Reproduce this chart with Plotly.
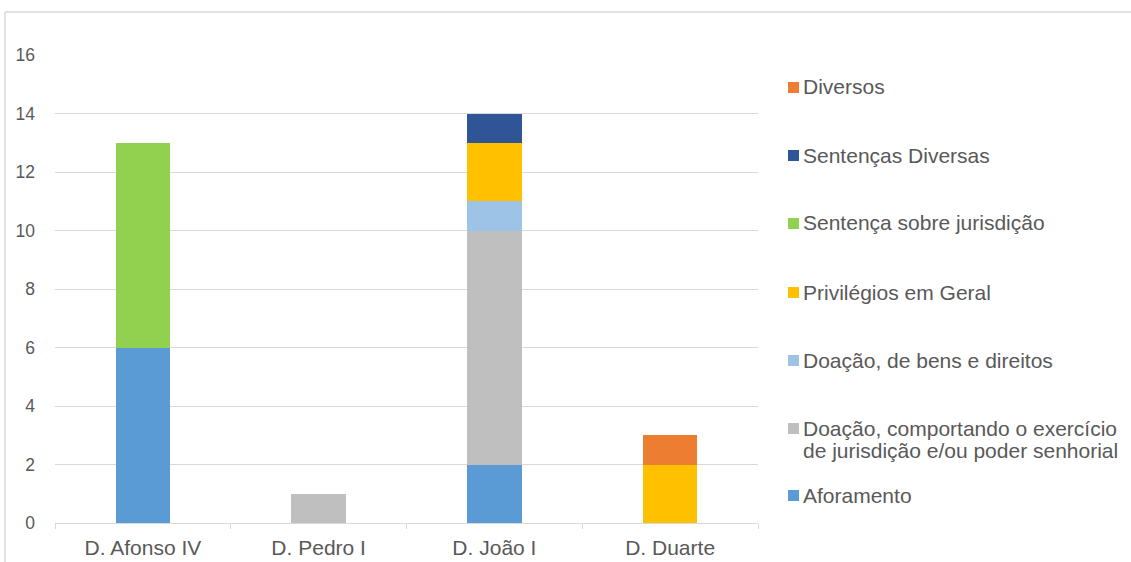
import plotly.graph_objects as go

categories = ["D. Afonso IV", "D. Pedro I", "D. João I", "D. Duarte"]
series_names = [
    "Aforamento",
    "Doação, comportando o exercício|de jurisdição e/ou poder senhorial",
    "Doação, de bens e direitos",
    "Privilégios em Geral",
    "Sentença sobre jurisdição",
    "Sentenças Diversas",
    "Diversos",
]
aforamento = [6, 0, 2, 0]
doacao_jurisdicao = [0, 1, 8, 0]
doacao_bens = [0, 0, 1, 0]
privilegios = [0, 0, 2, 2]
sentenca_jurisdicao = [7, 0, 0, 0]
sentencas_diversas = [0, 0, 1, 0]
diversos = [0, 0, 0, 1]
series_values = [aforamento, doacao_jurisdicao, doacao_bens, privilegios,
                 sentenca_jurisdicao, sentencas_diversas, diversos]
colors = ["#5B9BD5", "#BFBFBF", "#9DC3E6", "#FFC000", "#92D050", "#2F5597", "#ED7D31"]
y_ticks = [0, 2, 4, 6, 8, 10, 12, 14, 16]

W, H = 1131, 562
ml, mr, mt, mb = 55, 373, 55, 39
pw, ph = W - ml - mr, H - mt - mb

def px(p):
    return (p - ml) / pw

def py(p):
    return (H - mb - p) / ph

fig = go.Figure()
for name, vals, col in zip(series_names, series_values, colors):
    fig.add_trace(go.Bar(
        x=categories, y=[v if v else None for v in vals], name=name.replace("|", " "),
        marker=dict(color=col, line=dict(width=0)), showlegend=False,
    ))

font_col = "#595959"
grid_col = "#D9D9D9"
fam = "Liberation Sans, Arial"

# manual legend (top to bottom, reversed order); y = first line centre
legend_rows = [(6, 87), (5, 155), (4, 223), (3, 292), (2, 360), (1, 428), (0, 495)]
shapes = []
annotations = []
for idx, yc in legend_rows:
    shapes.append(dict(type="rect", xref="paper", yref="paper",
                       x0=px(788), x1=px(799), y0=py(yc + 6), y1=py(yc - 5),
                       fillcolor=colors[idx], line=dict(width=0)))
    for k, line in enumerate(series_names[idx].split("|")):
        annotations.append(dict(xref="paper", yref="paper", x=px(801), y=py(yc + 22 * k),
                                text=line, showarrow=False, xanchor="left",
                                yanchor="middle", align="left",
                                font=dict(family=fam, size=21, color=font_col)))

# outer chart frame (partly visible)
shapes.append(dict(type="line", xref="paper", yref="paper", x0=px(5), x1=px(1140),
                   y0=py(12), y1=py(12), line=dict(color=grid_col, width=1.5)))
shapes.append(dict(type="line", xref="paper", yref="paper", x0=px(5), x1=px(5),
                   y0=py(12), y1=py(570), line=dict(color=grid_col, width=1.5)))

fig.update_layout(
    width=W, height=H, barmode="stack", bargap=0.69,
    margin=dict(l=ml, r=mr, t=mt, b=mb, autoexpand=False),
    paper_bgcolor="white", plot_bgcolor="white",
    font=dict(family=fam, size=18, color=font_col),
    xaxis=dict(showgrid=False, showline=True, linecolor=grid_col, linewidth=1,
               ticks="outside", tickson="boundaries", ticklen=5, tickcolor=grid_col,
               ticklabelstandoff=6, automargin=False,
               tickfont=dict(size=21, color=font_col)),
    yaxis=dict(range=[0, 16], tickvals=y_ticks, showgrid=True, gridcolor=grid_col,
               gridwidth=1, zeroline=False, showline=False, ticklabelstandoff=19,
               automargin=False,
               tickfont=dict(size=17.5, color=font_col)),
    shapes=shapes, annotations=annotations,
)
fig.write_html("out.html")
